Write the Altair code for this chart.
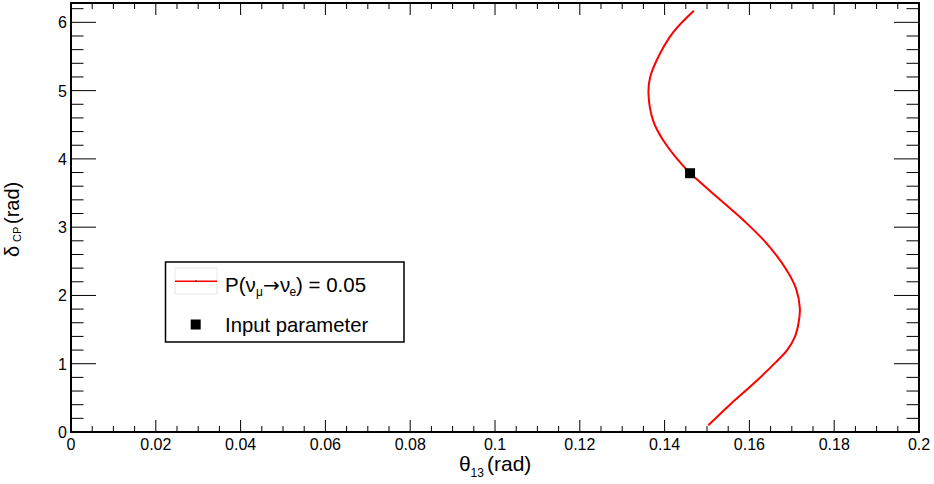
import altair as alt
import pandas as pd
import numpy as np

# ---- data ----
delta_vals = [0.098, 0.40, 0.71, 1.02, 1.20, 1.39, 1.60, 1.81, 2.10, 2.37, 2.76, 3.10, 3.40, 3.68,
              3.79, 4.27, 4.56, 4.95, 5.20, 5.54, 5.86, 6.17]
theta_vals = [0.1503, 0.1554, 0.1610, 0.1662, 0.1689, 0.1707, 0.1716, 0.1719, 0.1710, 0.1688, 0.1641,
              0.1586, 0.1531, 0.1480, 0.1460, 0.1397, 0.1373, 0.1362, 0.1366, 0.1389,
              0.1421, 0.1469]
input_theta = [0.1460]
input_delta = [3.79]

x_major = [0, 0.02, 0.04, 0.06, 0.08, 0.1, 0.12, 0.14, 0.16, 0.18, 0.2]
x_labels = ["0", "0.02", "0.04", "0.06", "0.08", "0.1", "0.12", "0.14", "0.16", "0.18", "0.2"]
x_minor = [round(0.005 * i, 3) for i in range(41) if i % 4 != 0]
y_major = [0, 1, 2, 3, 4, 5, 6]
y_labels = ["0", "1", "2", "3", "4", "5", "6"]
y_minor = [round(0.2 * i, 1) for i in range(32) if i % 5 != 0]

X_DOM = [0, 0.2]
Y_DOM = [0, 2 * np.pi]
W, H = 848, 429
FONT = "Liberation Sans"

xs = alt.Scale(domain=X_DOM, nice=False, zero=False)
ys = alt.Scale(domain=Y_DOM, nice=False, zero=False)

curve_df = pd.DataFrame({"theta": theta_vals, "delta": delta_vals})
input_df = pd.DataFrame({"theta": input_theta, "delta": input_delta})
xmaj_df = pd.DataFrame({"theta": x_major, "label": x_labels})
xmin_df = pd.DataFrame({"theta": x_minor})
ymaj_df = pd.DataFrame({"delta": y_major, "label": y_labels})
ymin_df = pd.DataFrame({"delta": y_minor})
one = pd.DataFrame({"a": [0]})

X = lambda: alt.X("theta:Q", scale=xs, axis=None)
Y = lambda: alt.Y("delta:Q", scale=ys, axis=None)

curve = alt.Chart(curve_df).mark_line(color="#ff0000", strokeWidth=2, interpolate="catmull-rom").encode(
    x=X(), y=Y(), order=alt.Order("delta:Q"),
)

marker = alt.Chart(input_df).mark_point(shape="square", filled=True, color="black", size=100, opacity=1).encode(
    x=X(), y=Y(),
)

def xticks(df, y1, y2):
    return alt.Chart(df).mark_rule(color="black", strokeWidth=1).encode(
        x=X(), y=alt.value(y1), y2=alt.value(y2))

def yticks(df, x1, x2):
    return alt.Chart(df).mark_rule(color="black", strokeWidth=1).encode(
        y=Y(), x=alt.value(x1), x2=alt.value(x2))

ticks = [
    xticks(xmaj_df, H, H - 12), xticks(xmin_df, H, H - 6),
    xticks(xmaj_df, 0, 12), xticks(xmin_df, 0, 6),
    yticks(ymaj_df, 0, 25), yticks(ymin_df, 0, 12.5),
    yticks(ymaj_df, W, W - 25), yticks(ymin_df, W, W - 12.5),
]

xlab = alt.Chart(xmaj_df).mark_text(align="center", baseline="alphabetic", font=FONT,
                                    fontSize=16, color="black").encode(
    x=X(), y=alt.value(H + 17.5), text="label:N")
ylab = alt.Chart(ymaj_df).mark_text(align="right", baseline="middle", font=FONT,
                                    fontSize=16, color="black", dy=1).encode(
    y=Y(), x=alt.value(-4), text="label:N")

def txt(s, x, y, size=20, angle=0, font=FONT):
    return alt.Chart(one).mark_text(text=s, align="left", baseline="alphabetic", font=font,
                                    fontSize=size, color="black", angle=angle).encode(
        x=alt.value(x), y=alt.value(y))

# legend
leg_box = alt.Chart(one).mark_rect(fill="white", stroke="black", strokeWidth=1.5).encode(
    x=alt.value(94.5), x2=alt.value(333), y=alt.value(259), y2=alt.value(339))
leg_sample_box = alt.Chart(one).mark_rect(fill="white", stroke="#e6e6e6", strokeWidth=1).encode(
    x=alt.value(104), x2=alt.value(146), y=alt.value(265), y2=alt.value(291))
leg_line = alt.Chart(one).mark_rule(color="#ff0000", strokeWidth=1.5).encode(
    x=alt.value(104), x2=alt.value(146), y=alt.value(278.3))
leg_dot = alt.Chart(one).mark_point(shape="square", filled=True, color="black", size=2, opacity=1).encode(
    x=alt.value(125), y=alt.value(278.3))
leg_sq = alt.Chart(one).mark_point(shape="square", filled=True, color="black", size=100, opacity=1).encode(
    x=alt.value(124.7), y=alt.value(321.5))

legend_texts = [
    txt("P(ν", 154, 288.5, 20.5),
    txt("μ", 185, 292.5, 12),
    txt("→", 192, 288.5, 20, 0, "DejaVu Sans"),
    txt("ν", 209, 288.5, 20.5),
    txt("e", 218.5, 292.5, 12),
    txt(") = 0.05", 225, 288.5, 20.5),
    txt("Input parameter", 154, 329, 20.3),
]

# axis titles
titles = [
    txt("θ", 388, 468, 21),
    txt("13", 399.5, 473.5, 12),
    txt("(rad)", 416, 468, 21),
    txt("δ", -52.5, 254, 20, 270),
    txt("CP", -50, 239, 11, 270),
    txt("(rad)", -52.5, 221, 20, 270),
]

chart = alt.layer(
    *ticks, curve, marker, xlab, ylab, leg_box, leg_sample_box, leg_line, leg_dot, leg_sq,
    *legend_texts, *titles
).properties(
    width=W, height=H, autosize="none",
    padding={"left": 71, "top": 3, "right": 15, "bottom": 52},
    background="white",
).configure_view(stroke="black", strokeWidth=2)

chart.save("out.html", embed_options={"renderer": "svg", "actions": False})
